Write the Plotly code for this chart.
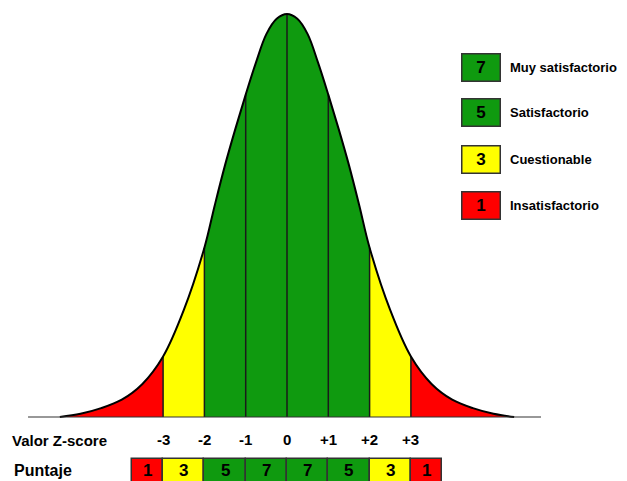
import plotly.graph_objects as go

# curve heights (peak = 1)
z_points = [-5.5, -5.0, -4.5, -4.0, -3.5, -3.0, -2.5, -2.0, -1.75, -1.5, -1.25, -1.0,
            -0.75, -0.5, -0.25, 0.0, 0.25, 0.5, 0.75, 1.0, 1.25, 1.5, 1.75, 2.0,
            2.5, 3.0, 3.5, 4.0, 4.5, 5.0, 5.5]
heights = [0.0, 0.008, 0.022, 0.043, 0.082, 0.15, 0.265, 0.42, 0.525, 0.625, 0.715, 0.80,
           0.88, 0.95, 0.988, 1.0, 0.988, 0.95, 0.88, 0.80, 0.715, 0.625, 0.525, 0.42,
           0.265, 0.15, 0.082, 0.043, 0.022, 0.008, 0.0]

# colour bands under the curve
band_edges = [-5.5, -3, -2, 2, 3, 5.5]
band_colors = ["#ff0000", "#ffff00", "#0f9a0f", "#ffff00", "#ff0000"]

tick_values = [-3, -2, -1, 0, 1, 2, 3]
tick_labels = ["-3", "-2", "-1", "0", "+1", "+2", "+3"]

# Puntaje row
score_edges = [-3.75, -3, -2, -1, 0, 1, 2, 3, 3.75]
scores = ["1", "3", "5", "7", "7", "5", "3", "1"]
score_colors = ["#ff0000", "#ffff00", "#0f9a0f", "#0f9a0f", "#0f9a0f", "#0f9a0f", "#ffff00", "#ff0000"]

legend_scores = ["7", "5", "3", "1"]
legend_labels = ["Muy satisfactorio", "Satisfactorio", "Cuestionable", "Insatisfactorio"]
legend_colors = ["#0f9a0f", "#0f9a0f", "#ffff00", "#ff0000"]

FONT = "Liberation Sans, Arial, sans-serif"
W, H = 619, 473   # page body adds an 8px margin


def px(x):
    return (x - 8) / W


def py(y):
    return 1 - (y - 8) / H


def bold(size):
    return dict(size=size, color="black", family=FONT, weight="bold")


fig = go.Figure()

# filled bands
for i, color in enumerate(band_colors):
    lo, hi = band_edges[i], band_edges[i + 1]
    xs = [x for x in z_points if lo <= x <= hi]
    ys = [heights[z_points.index(x)] for x in xs]
    fig.add_trace(go.Scatter(x=xs, y=ys, mode="lines", line=dict(width=0, shape="spline"),
                             fill="tozeroy", fillcolor=color, hoverinfo="skip", showlegend=False))

# vertical separators
vx, vy = [], []
for t in tick_values:
    vx += [t, t, None]
    vy += [0, heights[z_points.index(t)], None]
fig.add_trace(go.Scatter(x=vx, y=vy, mode="lines", line=dict(color="#1a1a1a", width=1.5),
                         hoverinfo="skip", showlegend=False))

# outline
fig.add_trace(go.Scatter(x=z_points, y=heights, mode="lines",
                         line=dict(color="black", width=2, shape="spline"),
                         hoverinfo="skip", showlegend=False))

# baseline
fig.add_trace(go.Scatter(x=[-6.27, 6.15], y=[0, 0], mode="lines",
                         line=dict(color="#333333", width=1.2),
                         hoverinfo="skip", showlegend=False))

# puntaje boxes
mids = [(score_edges[i] + score_edges[i + 1]) / 2 for i in range(len(scores))]
widths = [score_edges[i + 1] - score_edges[i] for i in range(len(scores))]
fig.add_trace(go.Bar(x=mids, y=[0.07] * len(scores), base=-0.174, width=widths,
                     marker=dict(color=score_colors, line=dict(color="#333333", width=1.5)),
                     hoverinfo="skip", showlegend=False))

annotations = []
for m, s in zip(mids, scores):
    annotations.append(dict(x=m, y=-0.132, text=s, showarrow=False, yanchor="middle",
                            font=bold(17)))
for t, lab in zip(tick_values, tick_labels):
    annotations.append(dict(x=t, y=-0.057, text=lab, showarrow=False, yanchor="middle",
                            font=bold(15)))
annotations.append(dict(x=px(10), y=py(440), xref="paper", yref="paper", text="Valor Z-score",
                        showarrow=False, xanchor="left", yanchor="middle", font=bold(15)))
annotations.append(dict(x=px(12), y=py(470), xref="paper", yref="paper", text="Puntaje",
                        showarrow=False, xanchor="left", yanchor="middle", font=bold(16)))

# legend entries
legend_tops = [54, 99, 146, 192]
for top, s, lab, c in zip(legend_tops, legend_scores, legend_labels, legend_colors):
    annotations.append(dict(x=px(481), y=py(top + 13.5), xref="paper", yref="paper",
                            xanchor="center", yanchor="middle",
                            text=s, showarrow=False, bgcolor=c, bordercolor="#333333",
                            borderwidth=1.5, width=35, height=24, font=bold(17)))
    annotations.append(dict(x=px(508), y=py(top + 13.5), xref="paper", yref="paper",
                            text=lab, showarrow=False, xanchor="left", yanchor="middle",
                            font=bold(13)))

fig.update_layout(
    width=W, height=H,
    margin=dict(l=0, r=0, t=0, b=0),
    plot_bgcolor="white", paper_bgcolor="white",
    xaxis=dict(range=[-6.755, 8.232], visible=False),
    yaxis=dict(range=[-0.1588, 1.0149], visible=False),
    annotations=annotations,
    bargap=0,
)

fig.write_html("out.html")
